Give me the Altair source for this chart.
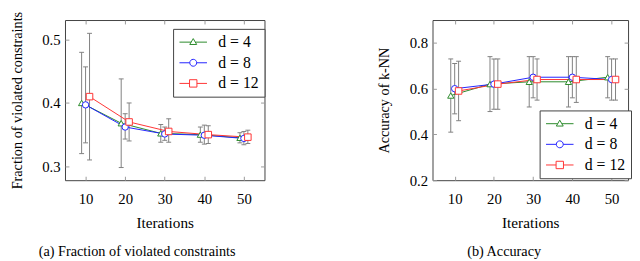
import altair as alt
import pandas as pd

iterations = [10, 20, 30, 40, 50]
series = ["d = 4", "d = 8", "d = 12"]
x_shift = [-1, 0, 1]
colors = ["#2a8a2a", "#2222ff", "#ff3333"]
shapes = ["triangle-up", "circle", "square"]
marker_sizes = [40, 44, 55]

# legend symbols: line through a hollow marker (unit box scaled by legend symbol size)
legend_paths = [
    "M-1.75,0L-0.27,0M0.27,0L1.75,0M-0.44,0.3L0,-0.45L0.44,0.3Z",
    "M-1.75,0L-0.44,0M0.44,0L1.75,0M-0.44,0A0.44,0.44,0,1,0,0.44,0A0.44,0.44,0,1,0,-0.44,0Z",
    "M-1.75,0L-0.47,0M0.47,0L1.75,0M-0.47,-0.47L0.47,-0.47L0.47,0.47L-0.47,0.47Z",
]

# (a) Fraction of violated constraints
viol_mean = {
    "d = 4": [0.400, 0.368, 0.352, 0.350, 0.345],
    "d = 8": [0.397, 0.362, 0.351, 0.349, 0.344],
    "d = 12": [0.410, 0.370, 0.355, 0.350, 0.346],
}
viol_lo = {
    "d = 4": [0.320, 0.298, 0.338, 0.338, 0.337],
    "d = 8": [0.337, 0.343, 0.341, 0.335, 0.334],
    "d = 12": [0.310, 0.340, 0.338, 0.336, 0.336],
}
viol_hi = {
    "d = 4": [0.480, 0.438, 0.366, 0.362, 0.353],
    "d = 8": [0.457, 0.383, 0.362, 0.365, 0.355],
    "d = 12": [0.510, 0.400, 0.375, 0.364, 0.357],
}

# (b) Accuracy of k-NN
acc_mean = {
    "d = 4": [0.57, 0.62, 0.63, 0.63, 0.65],
    "d = 8": [0.60, 0.62, 0.65, 0.65, 0.64],
    "d = 12": [0.59, 0.62, 0.64, 0.64, 0.64],
}
acc_lo = {
    "d = 4": [0.41, 0.50, 0.52, 0.52, 0.56],
    "d = 8": [0.49, 0.51, 0.56, 0.56, 0.55],
    "d = 12": [0.46, 0.51, 0.55, 0.54, 0.55],
}
acc_hi = {
    "d = 4": [0.73, 0.74, 0.74, 0.74, 0.74],
    "d = 8": [0.71, 0.73, 0.74, 0.74, 0.73],
    "d = 12": [0.72, 0.73, 0.73, 0.74, 0.73],
}

FONT = "Liberation Serif"
TICK_GRAY = "#9a9a9a"
BAR_GRAY = "#808080"


def make_df(mean, lo, hi):
    rows = []
    for s, sh in zip(series, x_shift):
        for i, it in enumerate(iterations):
            rows.append({"series": s, "x": it + sh, "m": mean[s][i],
                         "lo": lo[s][i], "hi": hi[s][i]})
    return pd.DataFrame(rows)


def panel(df, xdom, ydom, yvals, ytitle, caption, w, h, leg_x, leg_y):
    xs = alt.Scale(domain=xdom, nice=False, zero=False)
    ys = alt.Scale(domain=ydom, nice=False, zero=False)
    common = dict(domain=False, grid=False, tickSize=4, offset=-4,
                  tickColor=TICK_GRAY, tickWidth=1,
                  labelFont=FONT, labelFontSize=15, labelColor="black",
                  titleFont=FONT, titleFontWeight="normal", titleColor="black")
    x_bottom = alt.Axis(orient="bottom", values=iterations, title="Iterations",
                        labelPadding=12, titlePadding=9, titleFontSize=15.5,
                        **common)
    x_top = alt.Axis(orient="top", values=iterations, title=None, labels=False,
                     **common)
    y_left = alt.Axis(orient="left", values=yvals, format=".1f", title=ytitle,
                      labelPadding=5, titlePadding=18, titleFontSize=14.5,
                      **common)
    y_right = alt.Axis(orient="right", values=yvals, title=None, labels=False,
                       **common)
    cscale = alt.Scale(domain=series, range=colors)
    base = alt.Chart(df)

    bars = base.mark_rule(color=BAR_GRAY, strokeWidth=1).encode(
        x=alt.X("x:Q", scale=xs, axis=x_bottom),
        y=alt.Y("lo:Q", scale=ys, axis=y_left),
        y2="hi:Q",
    )
    cap_lo = base.mark_tick(orient="horizontal", color=BAR_GRAY, size=5,
                            thickness=1, opacity=1).encode(
        x=alt.X("x:Q", scale=xs, axis=x_top),
        y=alt.Y("lo:Q", scale=ys, axis=y_right),
    )
    cap_hi = base.mark_tick(orient="horizontal", color=BAR_GRAY, size=5,
                            thickness=1, opacity=1).encode(
        x=alt.X("x:Q", scale=xs, axis=None),
        y=alt.Y("hi:Q", scale=ys, axis=None),
    )
    lines = base.mark_line(strokeWidth=1).encode(
        x=alt.X("x:Q", scale=xs, axis=None),
        y=alt.Y("m:Q", scale=ys, axis=None),
        color=alt.Color("series:N", scale=cscale, legend=None),
    )
    points = base.mark_point(filled=False, fill="white", fillOpacity=1,
                             opacity=1, strokeWidth=1).encode(
        x=alt.X("x:Q", scale=xs, axis=None),
        y=alt.Y("m:Q", scale=ys, axis=None),
        color=alt.Color("series:N", scale=cscale, legend=None),
        shape=alt.Shape("series:N", scale=alt.Scale(domain=series, range=shapes),
                        legend=None),
        size=alt.Size("series:N", scale=alt.Scale(domain=series, range=marker_sizes),
                      legend=None),
    )
    leg = alt.Legend(title=None, orient="none", legendX=leg_x, legendY=leg_y,
                     fillColor="white", strokeColor="#404040", padding=5,
                     symbolSize=256, symbolStrokeWidth=1, symbolOffset=7,
                     labelOffset=17, rowPadding=4, labelFont=FONT,
                     labelFontSize=16, labelColor="black")
    legend_layer = base.mark_point(filled=False, opacity=1, strokeWidth=1).encode(
        color=alt.Color("series:N", scale=cscale, legend=leg),
        shape=alt.Shape("series:N", scale=alt.Scale(domain=series, range=legend_paths),
                        legend=leg),
    ).transform_filter("false")

    return alt.layer(bars, cap_lo, cap_hi, lines, points, legend_layer).resolve_scale(
        color="independent", shape="independent", size="independent"
    ).resolve_axis(x="independent", y="independent").properties(
        width=w, height=h,
        title=alt.TitleParams(caption, orient="bottom", anchor="middle",
                              frame="bounds", offset=15, fontSize=14.5, font=FONT,
                              fontWeight="normal", color="black"),
    )


left = panel(make_df(viol_mean, viol_lo, viol_hi), [4.8, 55.2], [0.278, 0.531],
             [0.3, 0.4, 0.5], "Fraction of violated constraints",
             "(a) Fraction of violated constraints", 203, 163, 110, 9)
right = panel(make_df(acc_mean, acc_lo, acc_hi), [4.35, 54.2], [0.2, 0.9],
              [0.2, 0.4, 0.6, 0.8], "Accuracy of k-NN", "(b) Accuracy",
              199, 163, 109, 92)

chart = alt.hconcat(left, right, spacing=171, bounds="flush").properties(
    padding=0
).configure_view(stroke="#404040", strokeWidth=1)

chart.save("out.html", embed_options={"renderer": "svg", "actions": False})
